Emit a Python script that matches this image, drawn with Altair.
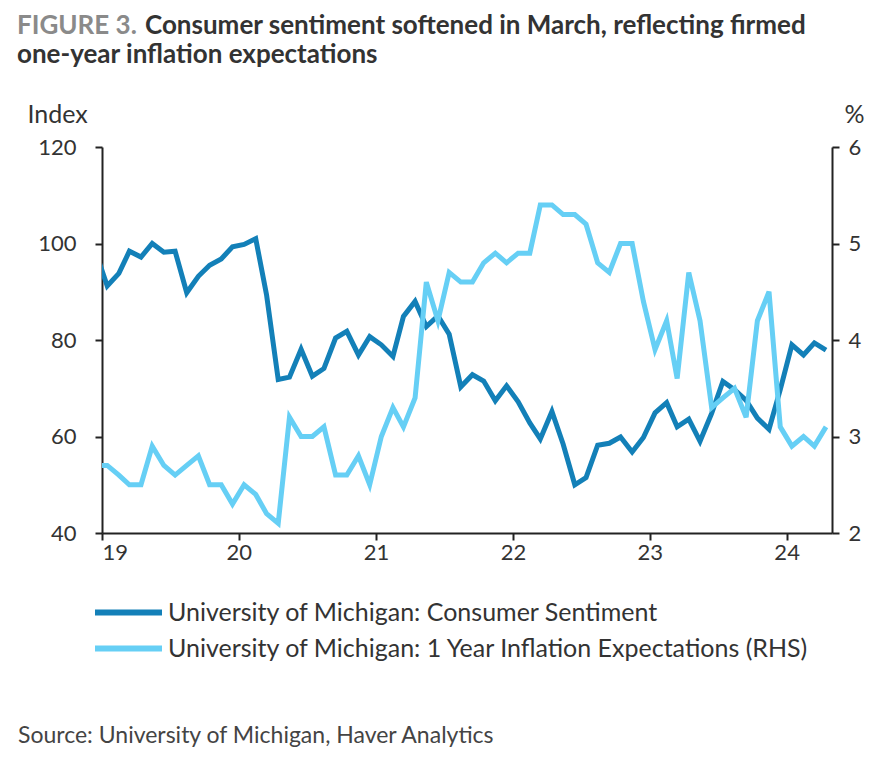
import altair as alt
import pandas as pd

# ---- data (monthly, Dec 2018 - Apr 2024) ----
months = pd.date_range("2018-12-01", "2024-04-01", freq="MS") + pd.Timedelta(days=14)

sentiment = [
    98.3,
    91.2, 93.8, 98.4, 97.2, 100.0, 98.2, 98.4, 89.8, 93.2, 95.5, 96.8, 99.3,
    99.8, 101.0, 89.3, 71.8, 72.3, 78.1, 72.5, 74.1, 80.4, 81.8, 76.9, 80.7,
    79.0, 76.6, 84.9, 88.0, 82.8, 85.0, 81.2, 70.3, 72.8, 71.5, 67.4, 70.5,
    67.2, 62.8, 59.5, 65.2, 58.4, 50.0, 51.5, 58.2, 58.6, 59.9, 56.8, 59.8,
    64.9, 67.0, 62.0, 63.6, 59.0, 64.8, 71.4, 69.7, 67.5, 63.8, 61.5, 69.7,
    79.0, 76.9, 79.4, 77.9,
]
inflation = [
    2.7,
    2.7, 2.6, 2.5, 2.5, 2.9, 2.7, 2.6, 2.7, 2.8, 2.5, 2.5, 2.3,
    2.5, 2.4, 2.2, 2.1, 3.2, 3.0, 3.0, 3.1, 2.6, 2.6, 2.8, 2.5,
    3.0, 3.3, 3.1, 3.4, 4.6, 4.2, 4.7, 4.6, 4.6, 4.8, 4.9, 4.8,
    4.9, 4.9, 5.4, 5.4, 5.3, 5.3, 5.2, 4.8, 4.7, 5.0, 5.0, 4.4,
    3.9, 4.2, 3.6, 4.7, 4.2, 3.3, 3.4, 3.5, 3.2, 4.2, 4.5, 3.1,
    2.9, 3.0, 2.9, 3.1,
]
series_names = [
    "University of Michigan: Consumer Sentiment",
    "University of Michigan: 1 Year Inflation Expectations (RHS)",
]
year_ticks = [2019, 2020, 2021, 2022, 2023, 2024]
left_ticks = [40, 60, 80, 100, 120]
right_ticks = [2, 3, 4, 5, 6]

title_lead = "FIGURE 3."
title_line1 = "Consumer sentiment softened in March, reflecting firmed"
title_line2 = "one-year inflation expectations"
source_text = "Source: University of Michigan, Haver Analytics"

df_s = pd.DataFrame({"date": months, "series": series_names[0], "value": sentiment})
df_i = pd.DataFrame({"date": months, "series": series_names[1], "value": inflation})

FONT = "Lato"
DARK = "#1380b8"
LIGHT = "#66cff5"
TXT = "#333333"
AX = "#222222"

color_scale = alt.Scale(domain=series_names, range=[DARK, LIGHT])

x_enc = alt.X(
    "date:T",
    scale=alt.Scale(domain=[alt.DateTime(year=2019, month=1, date=1),
                            alt.DateTime(year=2024, month=5, date=1)]),
    axis=alt.Axis(
        title=None, format="%y",
        values=[alt.DateTime(year=y, month=1, date=1) for y in year_ticks],
        domainColor=AX, domainWidth=2, tickColor=AX, tickWidth=2, tickSize=7,
        labelFont=FONT, labelFontSize=22, labelColor=TXT, labelPadding=2,
        grid=False,
    ),
)

legend = alt.Legend(
    title=None, orient="none", legendX=-10, legendY=453, direction="vertical",
    symbolType="stroke", symbolSize=4489, symbolStrokeWidth=6, clipHeight=25,
    rowPadding=10, labelOffset=3, labelFont=FONT, labelFontSize=25,
    labelColor=TXT, padding=0, labelLimit=900,
)

left = alt.Chart(df_s).mark_line(strokeWidth=5, clip=True).encode(
    x=x_enc,
    y=alt.Y("value:Q",
            scale=alt.Scale(domain=[40, 120], nice=False, zero=False),
            axis=alt.Axis(orient="left", values=left_ticks, title="Index",
                          titleAngle=0, titleAlign="left", titleX=-75, titleY=-25,
                          titleBaseline="alphabetic", titleFont=FONT, titleFontSize=25,
                          titleFontWeight="normal", titleColor=TXT,
                          domainColor=AX, domainWidth=2, tickColor=AX, tickWidth=2,
                          tickSize=7, labelFont=FONT, labelFontSize=22, labelColor=TXT,
                          labelPadding=19, grid=False)),
    color=alt.Color("series:N", scale=color_scale, legend=legend),
)

right = alt.Chart(df_i).mark_line(strokeWidth=5, clip=True).encode(
    x=x_enc,
    y=alt.Y("value:Q",
            scale=alt.Scale(domain=[2, 6], nice=False, zero=False),
            axis=alt.Axis(orient="right", values=right_ticks, title="%",
                          titleAngle=0, titleAlign="left", titleX=12, titleY=-25,
                          titleBaseline="alphabetic", titleFont=FONT, titleFontSize=25,
                          titleFontWeight="normal", titleColor=TXT,
                          domainColor=AX, domainWidth=2, tickColor=AX, tickWidth=2,
                          tickSize=7, labelFont=FONT, labelFontSize=22, labelColor=TXT,
                          labelPadding=9, grid=False)),
    color=alt.Color("series:N", scale=color_scale, legend=legend),
)


def text_layer(txt, x, y, color, weight, size):
    return alt.Chart(pd.DataFrame({"t": [txt]})).mark_text(
        align="left", baseline="alphabetic", font=FONT, fontSize=size,
        fontWeight=weight, color=color,
    ).encode(text="t:N", x=alt.value(x), y=alt.value(y))


t0 = text_layer(title_lead, -85, -113, "#8a8a8a", "bold", 26)
t1 = text_layer(title_line1, 43, -113, TXT, "bold", 26)
t2 = text_layer(title_line2, -85, -84, TXT, "bold", 26)
src = text_layer(source_text, -84, 596, "#444444", "normal", 23)

chart = alt.layer(left, right, t0, t1, t2, src).resolve_scale(
    y="independent"
).properties(
    width=730, height=386,
    padding={"left": 94, "top": 139, "right": 50, "bottom": 221},
    autosize=alt.AutoSizeParams(type="none"),
    background="white",
).configure_view(stroke=None)

chart.save("out.html", embed_options={"renderer": "svg", "actions": False})
